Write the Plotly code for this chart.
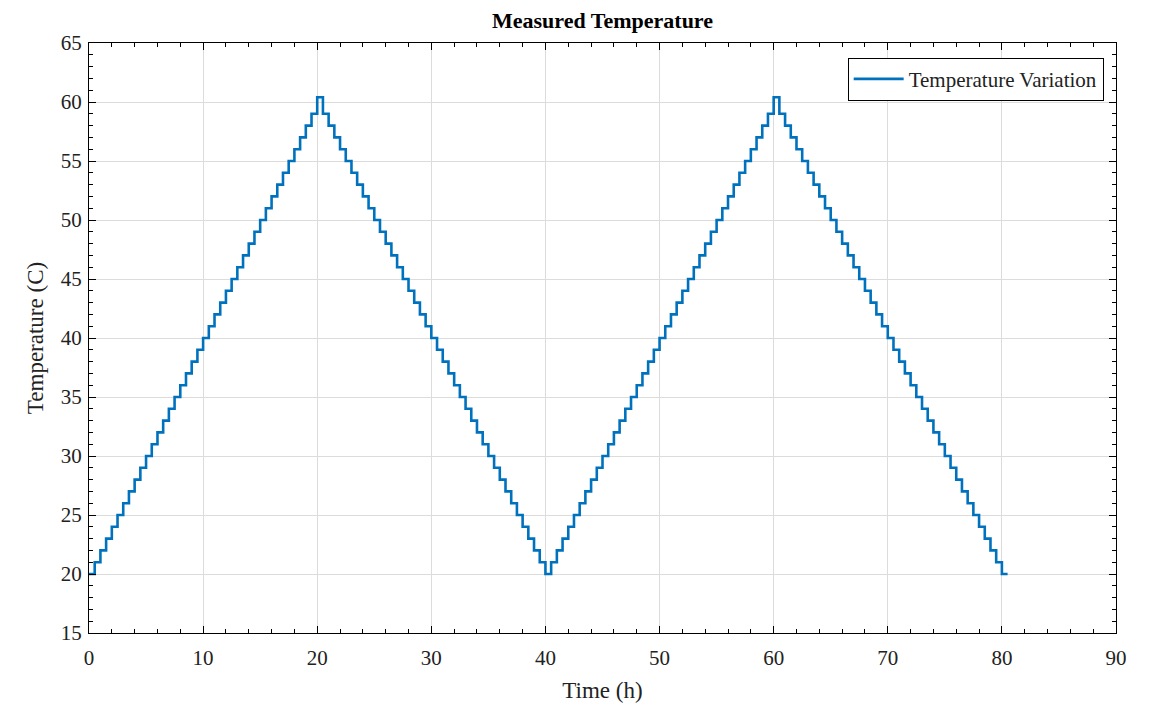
import plotly.graph_objects as go

time_h = [
    0.0, 0.5, 1.0, 1.5, 2.0, 2.5, 3.0, 3.5, 4.0, 4.5, 5.0, 5.5, 6.0, 6.5, 7.0, 7.5, 8.0, 8.5, 9.0, 9.5,
    10.0, 10.5, 11.0, 11.5, 12.0, 12.5, 13.0, 13.5, 14.0, 14.5, 15.0, 15.5, 16.0, 16.5, 17.0, 17.5, 18.0, 18.5, 19.0, 19.5,
    20.0, 20.5, 21.0, 21.5, 22.0, 22.5, 23.0, 23.5, 24.0, 24.5, 25.0, 25.5, 26.0, 26.5, 27.0, 27.5, 28.0, 28.5, 29.0, 29.5,
    30.0, 30.5, 31.0, 31.5, 32.0, 32.5, 33.0, 33.5, 34.0, 34.5, 35.0, 35.5, 36.0, 36.5, 37.0, 37.5, 38.0, 38.5, 39.0, 39.5,
    40.0, 40.5, 41.0, 41.5, 42.0, 42.5, 43.0, 43.5, 44.0, 44.5, 45.0, 45.5, 46.0, 46.5, 47.0, 47.5, 48.0, 48.5, 49.0, 49.5,
    50.0, 50.5, 51.0, 51.5, 52.0, 52.5, 53.0, 53.5, 54.0, 54.5, 55.0, 55.5, 56.0, 56.5, 57.0, 57.5, 58.0, 58.5, 59.0, 59.5,
    60.0, 60.5, 61.0, 61.5, 62.0, 62.5, 63.0, 63.5, 64.0, 64.5, 65.0, 65.5, 66.0, 66.5, 67.0, 67.5, 68.0, 68.5, 69.0, 69.5,
    70.0, 70.5, 71.0, 71.5, 72.0, 72.5, 73.0, 73.5, 74.0, 74.5, 75.0, 75.5, 76.0, 76.5, 77.0, 77.5, 78.0, 78.5, 79.0, 79.5,
    80.0, 80.5,
]

temperature_c = [
    20, 21, 22, 23, 24, 25, 26, 27, 28, 29, 30, 31, 32, 33, 34, 35, 36, 37, 38, 39,
    40, 41, 42, 43, 44, 45, 46, 47, 48, 49, 50, 51, 52, 53, 54, 55, 56, 57, 58, 59,
    60.4, 59, 58, 57, 56, 55, 54, 53, 52, 51, 50, 49, 48, 47, 46, 45, 44, 43, 42, 41,
    40, 39, 38, 37, 36, 35, 34, 33, 32, 31, 30, 29, 28, 27, 26, 25, 24, 23, 22, 21,
    20, 21, 22, 23, 24, 25, 26, 27, 28, 29, 30, 31, 32, 33, 34, 35, 36, 37, 38, 39,
    40, 41, 42, 43, 44, 45, 46, 47, 48, 49, 50, 51, 52, 53, 54, 55, 56, 57, 58, 59,
    60.4, 59, 58, 57, 56, 55, 54, 53, 52, 51, 50, 49, 48, 47, 46, 45, 44, 43, 42, 41,
    40, 39, 38, 37, 36, 35, 34, 33, 32, 31, 30, 29, 28, 27, 26, 25, 24, 23, 22, 21,
    20, 20,
]

x_ticks = [0, 10, 20, 30, 40, 50, 60, 70, 80, 90]
y_ticks = [15, 20, 25, 30, 35, 40, 45, 50, 55, 60, 65]

FONT = "Liberation Serif"

fig = go.Figure()
fig.add_trace(go.Scatter(
    x=time_h, y=temperature_c, mode="lines", line_shape="hv",
    name="Temperature Variation",
    line=dict(color="#0072BD", width=2.6),
))

axis_common = dict(
    showline=True, linecolor="black", linewidth=1, mirror="ticks",
    ticks="inside", ticklen=7, tickcolor="black", tickwidth=1,
    showgrid=True, gridcolor="#dcdcdc", gridwidth=1,
    zeroline=False,
    tickfont=dict(family=FONT, size=21, color="#222"),
)

fig.update_xaxes(
    range=[0, 90], tickvals=x_ticks, ticklabelstandoff=6,
    title=dict(text="Time (h)", font=dict(family=FONT, size=23, color="#222"), standoff=12),
    minor=dict(ticks="inside", dtick=2, ticklen=4, tickcolor="black", showgrid=False),
    **axis_common,
)
fig.update_yaxes(
    range=[15, 65], tickvals=y_ticks, ticklabelstandoff=2,
    title=dict(text="Temperature (C)", font=dict(family=FONT, size=23, color="#222"), standoff=10),
    minor=dict(ticks="inside", dtick=1, ticklen=4, tickcolor="black", showgrid=False),
    **axis_common,
)

fig.update_layout(
    width=1156, height=706,
    margin=dict(l=81, r=48, t=35, b=81),
    paper_bgcolor="white", plot_bgcolor="white",
    title=dict(text="<b>Measured Temperature</b>", x=0.5, xref="paper", xanchor="center",
               y=0.982, yanchor="middle",
               font=dict(family=FONT, size=22, color="black")),
    showlegend=True,
    legend=dict(x=0.988, y=0.975, xanchor="right", yanchor="top",
                bgcolor="white", bordercolor="black", borderwidth=1,
                itemwidth=50, tracegroupgap=0,
                font=dict(family=FONT, size=21, color="#222")),
)

fig.write_html("out.html")
